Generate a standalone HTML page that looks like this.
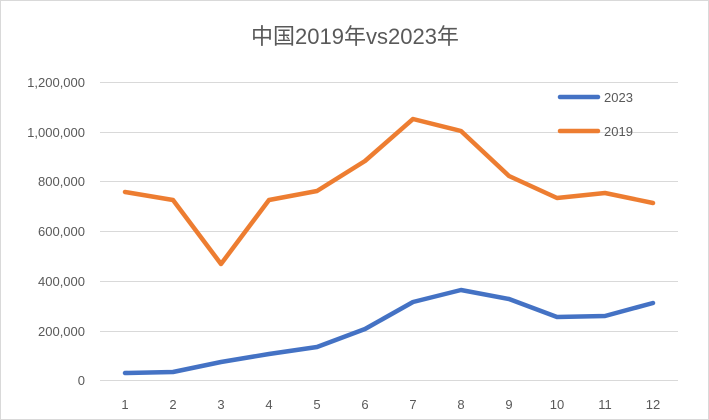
<!DOCTYPE html>
<html><head><meta charset="utf-8"><style>
body{margin:0;background:#fff}
svg{display:block}
text{font-family:"Liberation Sans","Noto Sans CJK SC",sans-serif;fill:#595959}
</style></head><body>
<svg width="709" height="420" viewBox="0 0 709 420">
<rect x="0.5" y="0.5" width="708" height="419" fill="#fff" stroke="#d9d9d9"/>
<text x="355" y="44" font-size="22" text-anchor="middle">中国2019年vs2023年</text>
<g stroke="#d9d9d9" stroke-width="1">
<line x1="100" x2="678" y1="82.5" y2="82.5"/>
<line x1="100" x2="678" y1="132.5" y2="132.5"/>
<line x1="100" x2="678" y1="181.5" y2="181.5"/>
<line x1="100" x2="678" y1="231.5" y2="231.5"/>
<line x1="100" x2="678" y1="281.5" y2="281.5"/>
<line x1="100" x2="678" y1="331.5" y2="331.5"/>
<line x1="100" x2="678" y1="380.5" y2="380.5"/>
</g>
<g font-size="13" text-anchor="end">
<text x="85" y="87">1,200,000</text>
<text x="85" y="137">1,000,000</text>
<text x="85" y="186">800,000</text>
<text x="85" y="236">600,000</text>
<text x="85" y="286">400,000</text>
<text x="85" y="336">200,000</text>
<text x="85" y="385">0</text>
</g>
<g font-size="13" text-anchor="middle">
<text x="125" y="409">1</text><text x="173" y="409">2</text><text x="221" y="409">3</text>
<text x="269" y="409">4</text><text x="317" y="409">5</text><text x="365" y="409">6</text>
<text x="413" y="409">7</text><text x="461" y="409">8</text><text x="509" y="409">9</text>
<text x="557" y="409">10</text><text x="605" y="409">11</text><text x="653" y="409">12</text>
</g>
<polyline fill="none" stroke="#ed7d31" stroke-width="4.5" stroke-linejoin="round" stroke-linecap="round"
points="125,192 173,200 221,264 269,200 317,191 365,161 413,119 461,131 509,176 557,198 605,193 653,203"/>
<polyline fill="none" stroke="#4472c4" stroke-width="4.5" stroke-linejoin="round" stroke-linecap="round"
points="125,373 173,372 221,362 269,354 317,347 365,329 413,302 461,290 509,299 557,317 605,316 653,303"/>
<line x1="560" x2="598" y1="97" y2="97" stroke="#4472c4" stroke-width="4.5" stroke-linecap="round"/>
<text x="604" y="102" font-size="13">2023</text>
<line x1="560" x2="598" y1="131" y2="131" stroke="#ed7d31" stroke-width="4.5" stroke-linecap="round"/>
<text x="604" y="136" font-size="13">2019</text>
</svg>
</body></html>
